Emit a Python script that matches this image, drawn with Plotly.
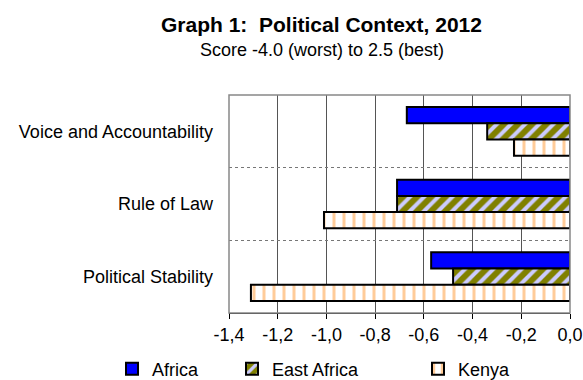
import plotly.graph_objects as go

categories = ["Voice and Accountability", "Rule of Law", "Political Stability"]
africa = [-0.67, -0.71, -0.57]
east_africa = [-0.34, -0.71, -0.48]
kenya = [-0.23, -1.01, -1.31]
x_ticks = [-1.4, -1.2, -1.0, -0.8, -0.6, -0.4, -0.2, 0.0]
x_tick_labels = ["-1,4", "-1,2", "-1,0", "-0,8", "-0,6", "-0,4", "-0,2", "0,0"]

FONT = "Liberation Sans, Arial, sans-serif"

fig = go.Figure()
fig.add_trace(go.Bar(
    y=categories, x=africa, orientation="h", name="Africa",
    marker=dict(color="#0000FF", line=dict(color="black", width=2)),
    legend="legend",
))
fig.add_trace(go.Bar(
    y=categories, x=east_africa, orientation="h", name="East Africa",
    marker=dict(color="#808000", line=dict(color="black", width=2),
                pattern=dict(shape="/", bgcolor="#808000", fgcolor="#CCCCFF",
                             size=10, solidity=0.4, fillmode="replace")),
    legend="legend2",
))
fig.add_trace(go.Bar(
    y=categories, x=kenya, orientation="h", name="Kenya",
    marker=dict(color="white", line=dict(color="black", width=2),
                pattern=dict(shape="|", bgcolor="white", fgcolor="#FFCC99",
                             size=10, solidity=0.3, fillmode="replace")),
    legend="legend3",
))

legend_common = dict(orientation="h", xref="container", yref="container",
                     yanchor="middle", y=(380 - 369) / 380, xanchor="left",
                     font=dict(family=FONT, size=18, color="black"),
                     bgcolor="rgba(0,0,0,0)", borderwidth=0, itemwidth=30,
                     itemclick=False)

fig.update_layout(
    width=583, height=380,
    margin=dict(l=229, r=13, t=95, b=67, autoexpand=False),
    paper_bgcolor="white", plot_bgcolor="white",
    barmode="group", bargap=0.33, bargroupgap=0,
    font=dict(family=FONT, size=18, color="black"),
    showlegend=True,
    legend=dict(legend_common, x=(152 - 40) / 583),
    legend2=dict(legend_common, x=(272 - 40) / 583),
    legend3=dict(legend_common, x=(458 - 40) / 583),
    xaxis=dict(range=[-1.4, 0], tickvals=x_ticks, ticktext=x_tick_labels,
               showgrid=True, gridcolor="#555555", gridwidth=1, automargin=False,
               zeroline=False, showline=True, linecolor="black", linewidth=1,
               ticks="outside", ticklen=5, tickcolor="black",
               tickfont=dict(family=FONT, size=18, color="black")),
    yaxis=dict(categoryorder="array", categoryarray=categories, automargin=False,
               autorange="reversed", showgrid=True, gridcolor="#777777",
               griddash="dot", gridwidth=1, tickson="boundaries", ticks="",
               showline=False, ticklabelstandoff=15,
               tickfont=dict(family=FONT, size=18, color="black")),
    shapes=[dict(type="rect", xref="paper", yref="paper", x0=0, x1=1, y0=0, y1=1,
                 line=dict(color="#888888", width=1.5), layer="above")],
    annotations=[
        dict(text="<b>Graph 1:  Political Context, 2012</b>", xref="paper", yref="paper",
             x=(321 - 229) / 341, y=(313 - 25) / 218, xanchor="center", yanchor="middle",
             showarrow=False, font=dict(family=FONT, size=21, color="black")),
        dict(text="Score -4.0 (worst) to 2.5 (best)", xref="paper", yref="paper",
             x=(322 - 229) / 341, y=(313 - 50) / 218, xanchor="center", yanchor="middle",
             showarrow=False, font=dict(family=FONT, size=18, color="black")),
    ],
)

fig.write_html("out.html")
